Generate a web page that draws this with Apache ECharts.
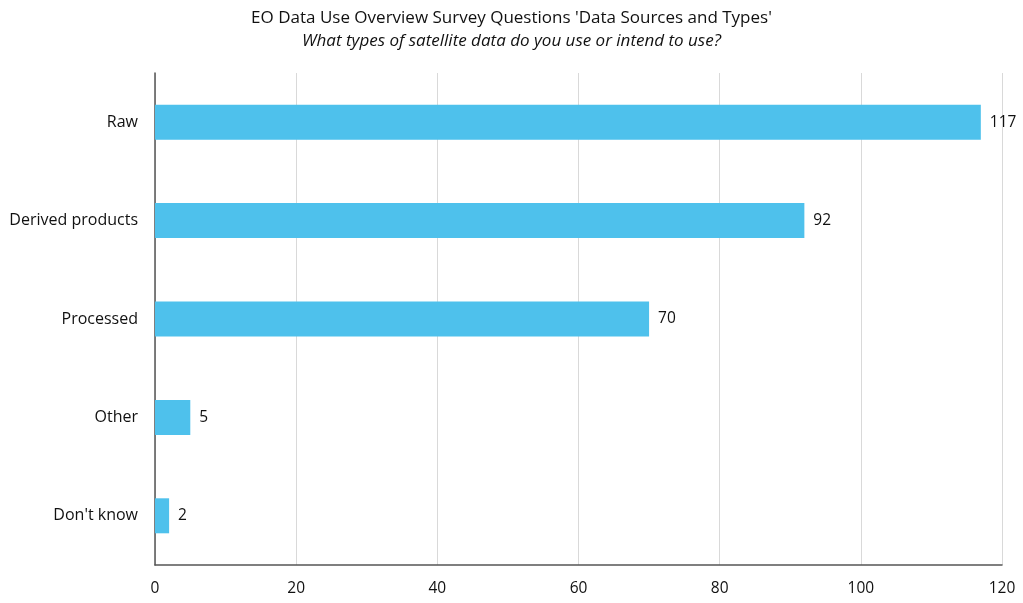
<!DOCTYPE html>
<html>
<head>
<meta charset="utf-8">
<script src="https://cdn.jsdelivr.net/npm/echarts@6/dist/echarts.min.js"></script>
<style>
  html, body { margin: 0; padding: 0; background: #fff; }
  #chart { width: 1023px; height: 603px; }
</style>
</head>
<body>
<div id="chart"></div>
<script>
// Survey answers, listed top to bottom
const categories = ['Raw', 'Derived products', 'Processed', 'Other', "Don't know"];
const counts = [117, 92, 70, 5, 2];
const xTicks = [0, 20, 40, 60, 80, 100, 120];

const FONT = '"Open Sans", Lato, sans-serif';

const chart = echarts.init(document.getElementById('chart'));
chart.setOption({
  backgroundColor: '#fff',
  animation: false,
  title: {
    text: "EO Data Use Overview Survey Questions 'Data Sources and Types'",
    subtext: 'What types of satellite data do you use or intend to use?',
    left: 'center',
    top: 5,
    itemGap: 6,
    textStyle: { fontFamily: FONT, fontSize: 17, fontWeight: 'normal', color: '#111' },
    subtextStyle: { fontFamily: FONT, fontSize: 17, fontStyle: 'italic', color: '#111' }
  },
  grid: { left: 155, right: 21, top: 73, bottom: 38, containLabel: false },
  xAxis: {
    type: 'value',
    min: xTicks[0],
    max: xTicks[xTicks.length - 1],
    interval: xTicks[1] - xTicks[0],
    axisLine: { show: true, lineStyle: { color: '#555', width: 1.5 } },
    axisTick: { show: false },
    axisLabel: { margin: 16, fontFamily: FONT, fontSize: 15.5, color: '#111' },
    splitLine: { show: true, lineStyle: { color: '#d9d9d9', width: 1 } }
  },
  yAxis: {
    type: 'category',
    data: categories,
    inverse: true,
    axisLine: { show: true, lineStyle: { color: '#555', width: 1.5 } },
    axisTick: { show: false },
    axisLabel: { margin: 17, fontFamily: FONT, fontSize: 16, color: '#111' },
    splitLine: { show: false }
  },
  series: [{
    type: 'bar',
    data: counts,
    barWidth: 35,
    itemStyle: { color: '#4EC1EC' },
    label: {
      show: true,
      position: 'right',
      distance: 9,
      fontFamily: FONT,
      fontSize: 15.5,
      color: '#111'
    }
  }]
});
</script>
</body>
</html>
